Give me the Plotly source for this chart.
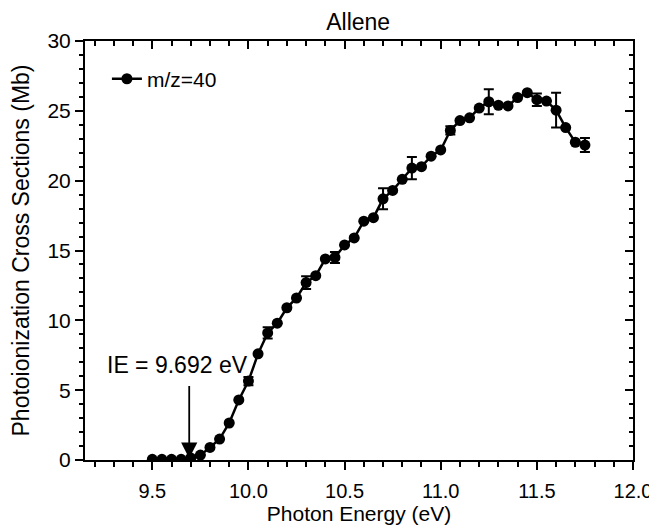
import plotly.graph_objects as go

# photon energy (eV) and cross sections (Mb)
energy = [9.50, 9.55, 9.60, 9.65, 9.70, 9.75, 9.80, 9.85, 9.90, 9.95,
          10.00, 10.05, 10.10, 10.15, 10.20, 10.25, 10.30, 10.35, 10.40, 10.45,
          10.50, 10.55, 10.60, 10.65, 10.70, 10.75, 10.80, 10.85, 10.90, 10.95,
          11.00, 11.05, 11.10, 11.15, 11.20, 11.25, 11.30, 11.35, 11.40, 11.45,
          11.50, 11.55, 11.60, 11.65, 11.70, 11.75]
sigma = [0.05, 0.05, 0.05, 0.05, 0.15, 0.35, 0.9, 1.5, 2.65, 4.3,
         5.65, 7.6, 9.1, 9.8, 10.9, 11.6, 12.7, 13.2, 14.4, 14.5,
         15.4, 15.9, 17.1, 17.35, 18.7, 19.3, 20.1, 20.9, 21.0, 21.75,
         22.2, 23.6, 24.3, 24.5, 25.2, 25.65, 25.4, 25.35, 25.95, 26.3,
         25.8, 25.7, 25.05, 23.8, 22.75, 22.55]
sigma_err = [0, 0, 0, 0, 0, 0, 0, 0, 0, 0,
             0.3, 0, 0.4, 0, 0, 0, 0.45, 0, 0, 0.4,
             0, 0, 0, 0, 0.75, 0, 0, 0.8, 0, 0,
             0, 0.3, 0, 0, 0, 0.9, 0, 0, 0, 0,
             0.45, 0, 1.25, 0, 0, 0.5]

x_range = [9.15, 12.0]
y_range = [0, 30]
ie_value = 9.692
ie_label = "IE = 9.692 eV"

FONT = "Liberation Sans, Arial, sans-serif"

fig = go.Figure()
fig.add_trace(
    go.Scatter(
        x=energy,
        y=sigma,
        mode="lines+markers",
        name="m/z=40",
        line=dict(color="black", width=2.5),
        marker=dict(color="black", size=11),
        error_y=dict(type="data", array=sigma_err, color="black", thickness=2, width=5),
    )
)
# invisible trace to carry the mirrored top/right axes
fig.add_trace(go.Scatter(x=x_range, y=y_range, xaxis="x2", yaxis="y2",
                         mode="markers", marker=dict(opacity=0), showlegend=False, hoverinfo="skip"))

axis_common = dict(showline=True, linecolor="black", linewidth=2, showgrid=False, zeroline=False,
                   tickcolor="black", tickwidth=2, mirror=False, automargin=False)

# page body adds ~7px offset, margins compensate for it
fig.update_layout(
    width=657,
    height=526,
    margin=dict(l=77, r=32, t=33, b=74),
    paper_bgcolor="white",
    plot_bgcolor="white",
    font=dict(family=FONT, size=20, color="black"),
    title=dict(text="Allene", x=0.533, xanchor="center", y=0.973, yanchor="middle",
               font=dict(size=23)),
    xaxis=dict(range=x_range, dtick=0.5, tick0=0, tickformat=".1f", ticks="outside", ticklen=8,
               tickfont=dict(size=20), ticklabelstandoff=4,
               minor=dict(dtick=0.1, tick0=0, ticks="outside", ticklen=5, tickwidth=2, tickcolor="black"),
               title=dict(text="Photon Energy (eV)", standoff=4, font=dict(size=21)), **axis_common),
    yaxis=dict(range=y_range, dtick=5, ticks="outside", ticklen=8, tickfont=dict(size=21),
               minor=dict(dtick=1, ticks="outside", ticklen=4, tickwidth=2, tickcolor="black"),
               title=dict(text="Photoionization Cross Sections (Mb)", standoff=12, font=dict(size=23)),
               **axis_common),
    xaxis2=dict(range=x_range, overlaying="x", side="top", anchor="y2", dtick=0.5, tick0=0,
                ticks="inside", ticklen=8, showticklabels=False,
                minor=dict(dtick=0.1, tick0=0, ticks="inside", ticklen=5, tickwidth=2, tickcolor="black"),
                **axis_common),
    yaxis2=dict(range=y_range, overlaying="y", side="right", anchor="x2", dtick=5,
                ticks="inside", ticklen=8, showticklabels=False,
                minor=dict(dtick=1, ticks="inside", ticklen=4, tickwidth=2, tickcolor="black"),
                **axis_common),
    legend=dict(x=0.04, y=0.958, xanchor="left", yanchor="top", bgcolor="rgba(0,0,0,0)",
                font=dict(size=21)),
    showlegend=True,
)

fig.add_annotation(x=ie_value, y=0.1, ax=ie_value, ay=5.4, xref="x", yref="y", axref="x", ayref="y",
                   showarrow=True, arrowhead=2, arrowsize=1.8, arrowwidth=1.8, arrowcolor="black", text="")
fig.add_annotation(x=9.63, y=6.8, xref="x", yref="y", text=ie_label, showarrow=False,
                   font=dict(size=23))

fig.write_html("out.html")
